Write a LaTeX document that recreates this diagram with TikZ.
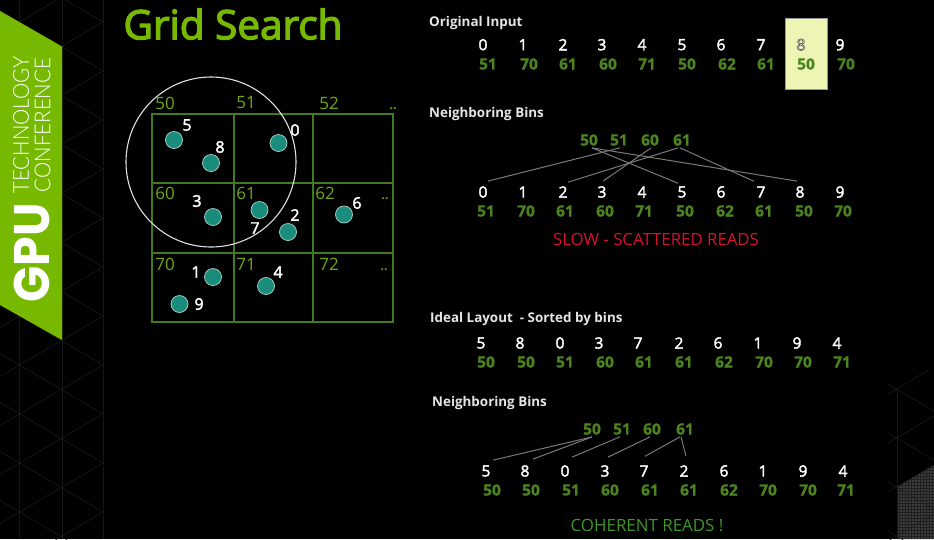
\documentclass[tikz,border=0pt]{standalone}
\usepackage{fontspec}
\setmainfont{Open Sans}
\newfontfamily\gpufont{Poppins}
\newfontfamily\medfont[FakeBold=2.4]{Open Sans}
\newfontfamily\titlefont[FakeBold=3.2]{Open Sans}
\newfontfamily\binfont[BoldFeatures={FakeBold=1}]{Open Sans}
\newfontfamily\lightfont{Lato Light}
\definecolor{nvgreen}{HTML}{76B900}
\definecolor{binhead}{HTML}{6FA80F}
\definecolor{bingreen}{HTML}{4C851F}
\definecolor{gridgreen}{HTML}{417A22}
\definecolor{tealdot}{HTML}{1A8C7C}
\definecolor{lattice}{HTML}{1E1E1E}
\definecolor{latticev}{HTML}{161616}
\definecolor{linkgrey}{HTML}{7A7A7A}
\definecolor{hlyellow}{HTML}{EEF4B4}
\definecolor{slowred}{HTML}{D8102A}
\definecolor{cohgreen}{HTML}{3F962A}
\tikzset{
  idx/.style={text=white,font=\medfont\fontsize{15.5}{15.5}\selectfont,inner sep=0pt,anchor=center},
  bin/.style={text=bingreen,font=\binfont\fontsize{15.5}{15.5}\selectfont\bfseries,inner sep=0pt,anchor=center},
  head/.style={text=white!90!black,font=\fontsize{13.4}{13.4}\selectfont\bfseries,inner sep=0pt,anchor=west},
  cellbin/.style={text=binhead,font=\fontsize{17}{17}\selectfont,inner sep=0pt,anchor=center},
  more/.style={text=binhead,font=\fontsize{12}{12}\selectfont\bfseries,inner sep=0pt,anchor=center},
  dotnode/.style={circle,draw=white!65!tealdot,line width=0.7pt,fill=tealdot,minimum size=17pt,inner sep=0pt},
  dotlab/.style={text=white,font=\medfont\fontsize{16}{16}\selectfont,inner sep=0pt,anchor=center},
  link/.style={draw=linkgrey,line width=1pt},
  latt/.style={draw=lattice,line width=0.5pt},
  lattv/.style={draw=latticev,line width=0.5pt},
  cellline/.style={draw=gridgreen,line width=2pt}
}
\begin{document}
\begin{tikzpicture}[x=1pt,y=-1pt]
\useasboundingbox (0,0) rectangle (934,539);
\fill[black] (0,0) rectangle (934,539);
% left lattice
\begin{scope}
\clip (0,0) rectangle (104,539);
\foreach \x in {19,62,103} \draw[lattv] (\x,0) -- (\x,539);
\foreach \k in {-12,...,12} {
  \draw[latt] (0,{22+49*\k+60.5}) -- (103,{22+49*\k});
  \draw[latt] (0,{22+49*\k-60.5}) -- (103,{22+49*\k});
}
\end{scope}
% right lattice
\begin{scope}
\clip (888,370) rectangle (934,539);
\fill[black!88!white] (897,487) -- (934,465) -- (934,539) -- (897,539) -- cycle;
\begin{scope}
\clip (897,487) -- (934,465) -- (934,539) -- (897,539) -- cycle;
\foreach \x in {897,900,...,934} \foreach \y in {465,468,...,539} \fill[black!76!white] (\x,\y) rectangle ++(1.6,1.6);
\end{scope}
\draw[lattv] (897,389) -- (897,539);
\foreach \y in {389,438,487,536} {
  \draw[latt] (888,{\y+5}) -- (934,{\y-22});
  \draw[latt] (888,{\y-5}) -- (934,{\y+22});
}
\end{scope}
% banner
\fill[nvgreen] (0,11) -- (62,46.5) -- (62,340) -- (0,305) -- cycle;
\node[text=white,rotate=90,inner sep=0pt,font=\gpufont\fontsize{50}{50}\selectfont\bfseries] (gpu) at (31.5,253) {\scalebox{0.95}[1]{GPU}};
\node[text=white,rotate=90,inner sep=0pt,font=\lightfont\fontsize{22}{22}\selectfont] (tech) at (21,125) {\scalebox{0.93}[1]{TECHNOLOGY}};
\node[text=white,rotate=90,inner sep=0pt,font=\lightfont\fontsize{22}{22}\selectfont] (conf) at (42.5,125) {\scalebox{0.93}[1]{CONFERENCE}};
% title
\node[text=nvgreen,inner sep=0pt,anchor=center,font=\titlefont\fontsize{40.5}{40.5}\selectfont] (title) at (233,24) {Grid Search};
% grid
\draw[cellline] (152,113.5) rectangle (393,322);
\draw[cellline] (233.5,113.5) -- (233.5,322);
\draw[cellline] (312.5,113.5) -- (312.5,322);
\draw[cellline] (152,182.5) -- (393,182.5);
\draw[cellline] (152,253) -- (393,253);
\foreach \t/\x/\y in {50/165/103,51/246/103,52/329/103,60/165/193,61/246/193,62/325/193,70/165/264,71/246/264,72/329/264}
  \node[cellbin] (c\t) at (\x,\y) {\t};
\node[more] (m1) at (393,109) {..};
\node[more] (m2) at (385,199) {..};
\node[more] (m3) at (384,270) {..};
% points
\foreach \n/\x/\y/\lx/\ly in {5/174/140/187/125,8/211/163/220/147,0/278.5/143/295/130,3/213/217/197/201,7/259.5/210/255/228,2/288/232/295/215,6/344/214.5/357/203,1/213/277/196/272,4/266/286/278/272,9/179.5/304/199/304} {
  \node[dotnode] (p\n) at (\x,\y) {};
  \node[dotlab] (l\n) at (\lx,\ly) {\n};
}
\draw[white!88!black,line width=1.1pt] (211,162) circle [radius=85];
% section 1
\node[head] (h1) at (429,23.5) {Original Input};
\node[draw=black!40!white,line width=0.5pt,fill=hlyellow,minimum width=42pt,minimum height=71pt,inner sep=0pt] (hl) at (806,53.5) {};
\foreach \t/\x in {0/483,1/523,2/563,3/602,4/642,5/682,6/721,7/761,9/840}
  \node[idx] (a\t) at (\x,44.7) {\t};
\node[idx,font=\rmfamily\fontsize{16}{16}\selectfont] (a8) at (801,44.7) {\special{pdf:code q 2 Tr 0.5 w 0.3 0.3 0.3 RG}8\special{pdf:code Q}};
\foreach \n/\t/\x in {0/51/488,1/70/529,2/61/568,3/60/608,4/71/647,5/50/687,6/62/727,7/61/766,8/50/806,9/70/846}
  \node[bin] (ab\n) at (\x,64) {\t};
% section 2
\node[head] (h2) at (429,114.5) {Neighboring Bins};
\foreach \t/\x in {50/589,51/619,60/650,61/682}
  \node[bin] (n\t) at (\x,140) {\t};
\foreach \t/\x in {0/483,1/523,2/563,3/602,4/642,5/682,6/721,7/761,8/800,9/840}
  \node[idx] (b\t) at (\x,192) {\t};
\foreach \n/\t/\x in {0/51/486,1/70/526,2/61/565,3/60/605,4/71/644,5/50/685,6/62/725,7/61/764,8/50/804,9/70/843}
  \node[bin] (bb\n) at (\x,211) {\t};
\draw[link] ([xshift=3pt,yshift=-2pt]n50.south) -- ([xshift=-4pt,yshift=3pt]b5.north);
\draw[link] ([xshift=3pt,yshift=-2pt]n50.south) -- ([xshift=-3pt,yshift=5pt]b8.north);
\draw[link] ([xshift=1pt,yshift=-2pt]n51.south) -- ([xshift=5pt,yshift=5pt]b0.north);
\draw[link] ([xshift=1pt,yshift=-2pt]n60.south) -- ([xshift=1pt,yshift=5pt]b3.north);
\draw[link] ([xshift=-4pt,yshift=-2pt]n61.south) -- ([xshift=5pt,yshift=4pt]b2.north);
\draw[link] ([xshift=-2pt,yshift=-2pt]n61.south) -- ([xshift=-7pt,yshift=5pt]b7.north);
\node[text=slowred,inner sep=0pt,font=\fontsize{16.8}{16.8}\selectfont] (slow) at (656,239.5) {SLOW - SCATTERED READS};
% section 3
\node[head] (h3) at (430,319.5) {Ideal Layout\ \ - Sorted by bins};
\foreach \t/\x in {5/481,8/520,0/560,3/599,7/638,2/679,6/718,1/758,9/797,4/837}
  \node[idx] (c\t x) at (\x,343) {\t};
\foreach \n/\t/\x in {0/50/486,1/50/526,2/51/565,3/60/605,4/61/644,5/61/684,6/62/724,7/70/764,8/70/803,9/71/842}
  \node[bin] (cb\n) at (\x,362) {\t};
% section 4
\node[head] (h4) at (432,403.5) {Neighboring Bins};
\foreach \t/\x in {50/592,51/622,60/652,61/685}
  \node[bin] (s\t) at (\x,429) {\t};
\foreach \t/\x in {5/486,8/525,0/565,3/605,7/644,2/684,6/724,1/763,9/803,4/843}
  \node[idx] (d\t) at (\x,471) {\t};
\foreach \n/\t/\x in {0/50/492,1/50/531,2/51/571,3/60/610,4/61/650,5/61/689,6/62/729,7/70/768,8/70/808,9/71/846}
  \node[bin] (db\n) at (\x,490) {\t};
\draw[link] ([yshift=-2pt]s50.south) -- ([xshift=7pt,yshift=5pt]d5.north);
\draw[link] ([yshift=-2pt]s50.south) -- ([xshift=8pt,yshift=6pt]d8.north);
\draw[link] ([xshift=-2pt,yshift=-2pt]s51.south) -- ([xshift=7pt,yshift=8pt]d0.north);
\draw[link] ([xshift=-2pt,yshift=-2pt]s60.south) -- ([xshift=3pt,yshift=8pt]d3.north);
\draw[link] ([xshift=-5pt,yshift=-2pt]s61.south) -- ([xshift=1pt,yshift=9pt]d7.north);
\draw[link] ([xshift=-4pt,yshift=-2pt]s61.south) -- ([xshift=2pt,yshift=9pt]d2.north);
\node[text=cohgreen,inner sep=0pt,font=\fontsize{16.9}{16.9}\selectfont] (coh) at (647,525.5) {COHERENT READS !};
\end{tikzpicture}
\end{document}
